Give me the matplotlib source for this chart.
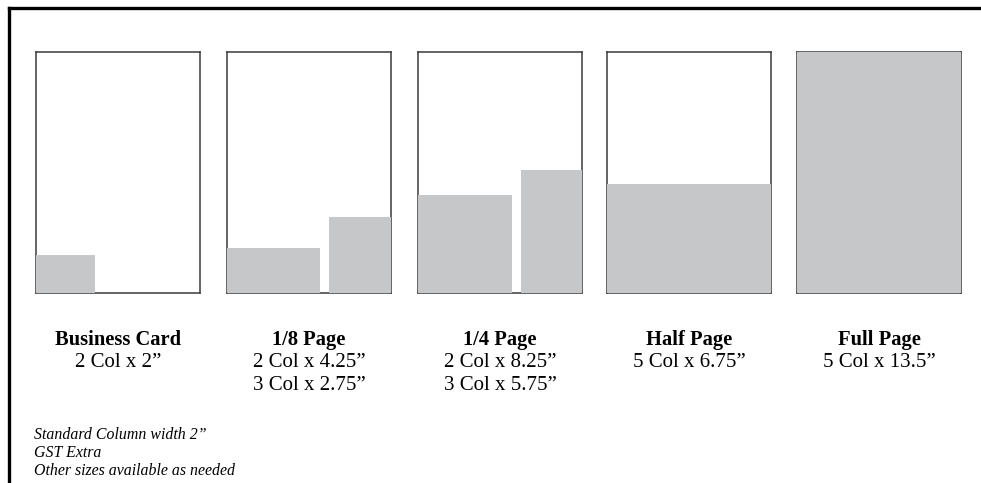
import matplotlib
matplotlib.use("Agg")
import matplotlib.pyplot as plt
from matplotlib.lines import Line2D

# ad sizes (titles and size lines under each page)
titles = ["Business Card", "1/8 Page", "1/4 Page", "Half Page", "Full Page"]
size_lines = [
    ["2 Col x 2\u201d"],
    ["2 Col x 4.25\u201d", "3 Col x 2.75\u201d"],
    ["2 Col x 8.25\u201d", "3 Col x 5.75\u201d"],
    ["5 Col x 6.75\u201d"],
    ["5 Col x 13.5\u201d"],
]
# shaded blocks, as fractions of the page: (left, width, height)
blocks = [
    [(0.0, 0.36, 0.158)],
    [(0.0, 0.567, 0.187), (0.62, 0.38, 0.315)],
    [(0.0, 0.573, 0.407), (0.628, 0.372, 0.51)],
    [(0.0, 1.0, 0.452)],
    [(0.0, 1.0, 1.0)],
]
notes = ["Standard Column width 2\u201d", "GST Extra", "Other sizes available as needed"]

W, H = 981, 483
fig = plt.figure(figsize=(W / 100, H / 100), dpi=100)
fig.patch.set_facecolor("white")

SERIF = ["Liberation Serif", "DejaVu Serif"]
GREY = "#c6c7c8"

page_left = [36, 227, 418, 607, 797]
page_w, page_top, page_bot = 164, 52, 293

for i, left in enumerate(page_left):
    ax = fig.add_axes([left / W, 1 - page_bot / H, page_w / W, (page_bot - page_top) / H])
    ax.set_xlim(0, 1)
    ax.set_ylim(0, 1)
    ax.set_xticks([])
    ax.set_yticks([])
    for s in ax.spines.values():
        s.set_color("#3a3a3a")
        s.set_linewidth(1.1)
    for x0, w, h in blocks[i]:
        ax.bar(x0, h, width=w, bottom=0, align="edge", color=GREY, zorder=3)

    cx = (left + page_w / 2) / W
    fig.text(cx, 1 - 345 / H, titles[i], ha="center", va="baseline",
             fontsize=14.8, fontweight="bold", family=SERIF)
    for j, line in enumerate(size_lines[i]):
        fig.text(cx, 1 - (367 + 23.5 * j) / H, line, ha="center", va="baseline",
                 fontsize=15, family=SERIF)

for k, note in enumerate(notes):
    fig.text(34 / W, 1 - (439 + 18 * k) / H, note, ha="left", va="baseline",
             fontsize=11.4, style="italic", family=SERIF)

# outer frame, top and left edges only
fig.add_artist(Line2D([8.5 / W, 1], [1 - 7.5 / H, 1 - 7.5 / H], color="black", lw=2.4,
                      transform=fig.transFigure))
fig.add_artist(Line2D([8.5 / W, 8.5 / W], [1 - 7.5 / H, 0], color="black", lw=2.4,
                      transform=fig.transFigure))

fig.savefig("out.png", dpi=100)
